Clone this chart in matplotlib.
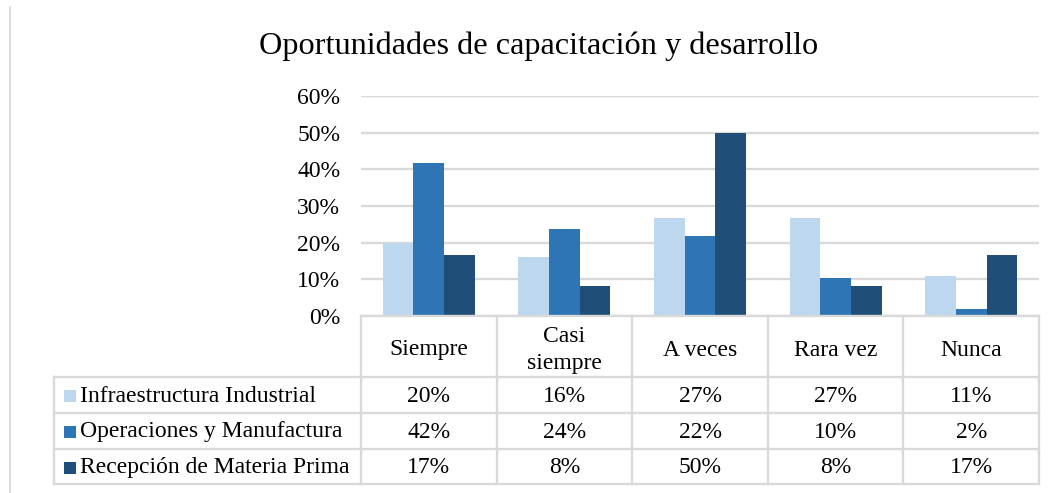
import matplotlib
matplotlib.use("Agg")
import matplotlib.pyplot as plt
from matplotlib import transforms
import numpy as np

title = "Oportunidades de capacitación y desarrollo"
categories = ["Siempre", "Casi\nsiempre", "A veces", "Rara vez", "Nunca"]
series_names = ["Infraestructura Industrial", "Operaciones y Manufactura", "Recepción de Materia Prima"]
infraestructura = [19.8, 16.1, 26.7, 26.7, 10.8]
operaciones = [41.7, 23.7, 21.8, 10.4, 1.9]
recepcion = [16.7, 8.3, 50.0, 8.3, 16.7]
yticks = [0, 10, 20, 30, 40, 50, 60]
colors = ["#BDD7EE", "#2E75B6", "#1F4E79"]

plt.rcParams['font.family'] = ['Liberation Serif', 'DejaVu Serif']
W, H = 1060, 493
fig = plt.figure(figsize=(W / 100, H / 100), dpi=100)
fig.patch.set_facecolor('white')

ax = fig.add_axes([361 / W, 1 - 316 / H, (1039 - 361) / W, (316 - 96) / H])
series = [infraestructura, operaciones, recepcion]
n = len(categories)
x = np.arange(n)
bw = 0.226
for i, (vals, c) in enumerate(zip(series, colors)):
    ax.bar(x + (i - 1) * bw, vals, width=bw, color=c, zorder=3, linewidth=0)

ax.set_xlim(-0.5, n - 0.5)
ax.set_ylim(0, 60)
ax.set_yticks(yticks)
ax.set_yticklabels([f"{t}%" for t in yticks], fontsize=17, color="#000000")
ax.tick_params(axis='y', length=0, pad=15)
ax.set_xticks([])
for s in ax.spines.values():
    s.set_visible(False)
ax.grid(axis='y', color='#D9D9D9', linewidth=1.7, zorder=0)
ax.set_axisbelow(True)

ov2 = fig.add_axes([0, 0, 1, 1], zorder=5)
ov2.set_xlim(0, W)
ov2.set_ylim(H, 0)
ov2.axis('off')
ov2.patch.set_alpha(0)

ov2.text(539, 46, title, fontsize=23.2, ha='center', va='center', color='#000000')
ov2.plot([10, 10], [6, 493], color='#D9D9D9', lw=1.3, solid_capstyle='butt')

blend = transforms.blended_transform_factory(ax.transData, ov2.transData)
gc = '#D9D9D9'
glw = 1.7
y_top, y_bot = 316, 484
row_edges = [377, 413, 449, 484]
left = 54
bounds = np.arange(n + 1) - 0.5
for b in bounds:
    ov2.plot([b, b], [y_top, y_bot], transform=blend, color=gc, lw=glw, solid_capstyle='projecting')
ov2.plot([-0.5, n - 0.5], [y_top, y_top], transform=blend, color=gc, lw=glw)
for ry in row_edges:
    ov2.plot([left, 361], [ry, ry], color=gc, lw=glw)
    ov2.plot([-0.5, n - 0.5], [ry, ry], transform=blend, color=gc, lw=glw)
ov2.plot([left, left], [row_edges[0], row_edges[-1]], color=gc, lw=glw)

for i, cat in enumerate(categories):
    ov2.text(i, 350, cat, transform=blend, ha='center', va='center', fontsize=17,
             linespacing=1.35)
for r, (name, vals, c) in enumerate(zip(series_names, series, colors)):
    cy = (row_edges[r] + row_edges[r + 1]) / 2 + 1
    ov2.add_patch(plt.Rectangle((63.5, cy - 6), 12, 12, color=c, lw=0))
    ov2.text(80, cy, name, ha='left', va='center', fontsize=17)
    for i, v in enumerate(vals):
        ov2.text(i, cy, f"{round(v)}%", transform=blend, ha='center', va='center', fontsize=17)

fig.savefig("out.png", dpi=100, facecolor='white')
